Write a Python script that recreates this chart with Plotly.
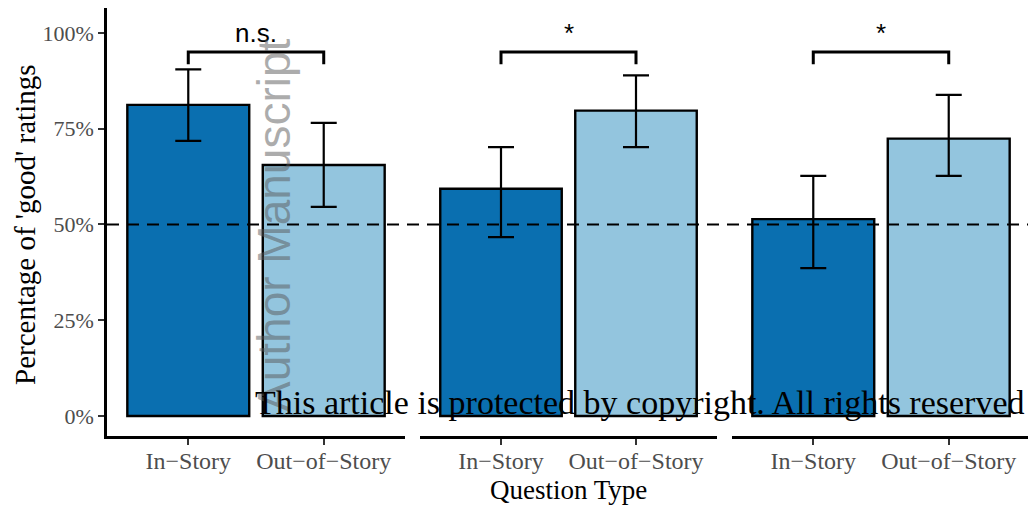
import plotly.graph_objects as go

# Data
question_types = ["In\u2212Story", "Out\u2212of\u2212Story"]
panel_good = [
    [0.812, 0.655],
    [0.593, 0.797],
    [0.514, 0.724],
]
panel_upper = [
    [0.905, 0.765],
    [0.702, 0.889],
    [0.627, 0.838],
]
panel_lower = [
    [0.718, 0.546],
    [0.467, 0.702],
    [0.386, 0.627],
]
sig_labels = ["n.s.", "*", "*"]
bracket_top = 0.95
bracket_leg = 0.918

bar_colors = ["#0a6fb0", "#93c5de"]

# page body adds an 8px margin, so the figure is 8px smaller than the window
pw = 923.0   # plot area width
ph = 428.0   # plot area height
domains = [[0, 298 / pw], [313 / pw, 610 / pw], [625 / pw, 1.0]]


def px(sx):
    return (sx - 107) / pw


def py(sy):
    return (436 - sy) / ph


fig = go.Figure()

for i in range(3):
    xa = "x" if i == 0 else f"x{i + 1}"
    vals = panel_good[i]
    up = [u - v for u, v in zip(panel_upper[i], vals)]
    lo = [v - l for l, v in zip(panel_lower[i], vals)]
    fig.add_trace(go.Bar(
        x=question_types, y=vals, xaxis=xa, yaxis="y",
        width=0.9,
        marker=dict(color=bar_colors, line=dict(color="black", width=2.4)),
        error_y=dict(type="data", array=up, arrayminus=lo, color="black",
                     thickness=2.2, width=13),
        showlegend=False, hoverinfo="skip",
    ))
    # significance bracket
    fig.add_trace(go.Scatter(
        x=[question_types[0], question_types[0], question_types[1], question_types[1]],
        y=[bracket_leg, bracket_top, bracket_top, bracket_leg],
        xaxis=xa, yaxis="y", mode="lines",
        line=dict(color="black", width=3), showlegend=False, hoverinfo="skip",
    ))
    fig.add_annotation(
        x=0.5, y=bracket_top + 0.005, xref=xa, yref="y",
        text=sig_labels[i], showarrow=False, yanchor="bottom",
        font=dict(family="Liberation Sans, Arial", size=26, color="black"),
    )

serif = "Liberation Serif, Times New Roman"
axis_common = dict(
    type="category", range=[-0.6, 1.6], showline=True, linecolor="black",
    linewidth=2.5, ticks="outside", ticklen=6, tickwidth=2, tickcolor="#333333",
    showgrid=False, zeroline=False, automargin=False, ticklabelstandoff=-5,
    tickfont=dict(family=serif, size=24, color="#4d4d4d"),
)
fig.update_layout(
    width=1028, height=500,
    margin=dict(l=99, r=6, t=0, b=72, autoexpand=False),
    plot_bgcolor="white", paper_bgcolor="white",
    bargap=0.1,
    xaxis=dict(domain=domains[0], **axis_common),
    xaxis2=dict(domain=domains[1], anchor="y", **axis_common),
    xaxis3=dict(domain=domains[2], anchor="y", **axis_common),
    yaxis=dict(
        range=[-0.0522, 1.065], tickvals=[0, 0.25, 0.5, 0.75, 1.0],
        ticktext=["0%", "25%", "50%", "75%", "100%"],
        showline=True, linecolor="black", linewidth=2.5, ticks="outside",
        ticklen=6, tickwidth=2, tickcolor="#333333", showgrid=False, zeroline=False,
        automargin=False,
        tickfont=dict(family=serif, size=22, color="#4d4d4d"),
    ),
)

# 50% reference line across all panels
fig.add_shape(type="line", xref="paper", yref="y", x0=0, x1=1,
              y0=0.5, y1=0.5, line=dict(color="black", width=2, dash="12px,8px"), layer="above")

fig.add_annotation(
    x=px(568), y=py(490), xref="paper", yref="paper", xanchor="center", yanchor="middle",
    text="Question Type", showarrow=False,
    font=dict(family=serif, size=27, color="black"),
)
fig.add_annotation(
    x=px(25), y=py(225), xref="paper", yref="paper", textangle=-90,
    xanchor="center", yanchor="middle",
    text="Percentage of 'good' ratings", showarrow=False,
    font=dict(family=serif, size=29, color="black"),
)

# watermark texts
fig.add_annotation(
    x=px(274), y=py(226), xref="paper", yref="paper", textangle=-90,
    xanchor="center", yanchor="middle",
    text="Author Manuscript", showarrow=False,
    font=dict(family="Liberation Sans, Arial", size=46, color="rgba(90,90,90,0.5)"),
)
fig.add_annotation(
    x=px(640), y=py(402), xref="paper", yref="paper", xanchor="center", yanchor="middle",
    text="This article is protected by copyright. All rights reserved", showarrow=False,
    font=dict(family=serif, size=34, color="black"),
)

fig.write_html("out.html")
